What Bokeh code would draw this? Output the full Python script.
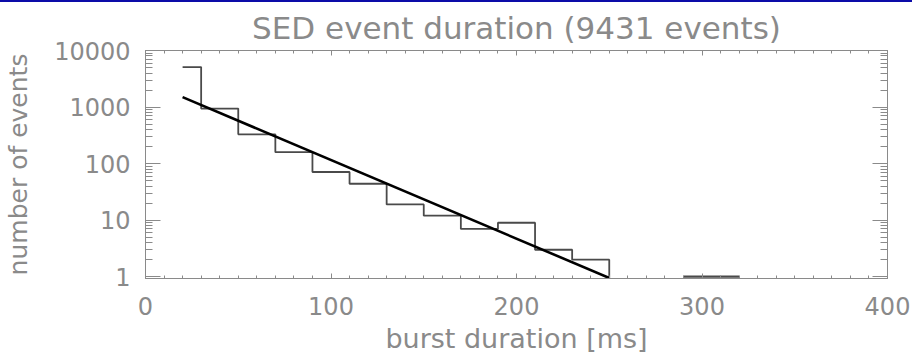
from bokeh.plotting import figure
from bokeh.models import FixedTicker, Range1d, LinearAxis, LogAxis
from bokeh.embed import file_html
from bokeh.resources import INLINE

# Histogram of burst durations: bin edges [ms] and event counts per bin
bin_edges = [20, 30, 50, 70, 90, 110, 130, 150, 170, 190, 210, 230, 250]
bin_counts = [5100, 940, 330, 159, 71, 44, 19, 12, 7, 9, 3, 2]

# Isolated long bursts near 300 ms
tail_edges = [290, 320]
tail_counts = [1]

# Exponential fit (a straight line on the log axis), end points
fit_x = [20, 250]
fit_y = [1500, 0.95]

x_ticks = [0, 100, 200, 300, 400]
x_tick_labels = ["0", "100", "200", "300", "400"]
y_ticks = [1, 10, 100, 1000, 10000]
y_tick_labels = ["1", "10", "100", "1000", "10000"]

FONT = "DejaVu Sans"
TEXT = "#8a8a8a"
AXIS = "#8a8a8a"

p = figure(
    width=912, height=354,
    y_axis_type="log",
    x_range=Range1d(0, 400), y_range=Range1d(0.93, 10000),
    output_backend="svg", toolbar_location=None,
    min_border_left=145, min_border_right=25,
    min_border_top=48, min_border_bottom=77,
    title="SED event duration (9431 events)",
)
p.styles = {"border-top": "2px solid #0c0ca8"}

p.title.align = "center"
p.title.text_font = FONT
p.title.text_font_size = "31px"
p.title.text_font_style = "normal"
p.title.text_color = TEXT
p.title.standoff = 10

p.grid.visible = False
p.outline_line_color = AXIS
p.background_fill_color = "white"
p.border_fill_color = "white"

x_minor = list(range(0, 401, 10))
y_minor = [m * 10 ** d for d in range(0, 4) for m in range(2, 10)]
xt = FixedTicker(ticks=x_ticks, minor_ticks=x_minor)
yt = FixedTicker(ticks=y_ticks, minor_ticks=y_minor)

def style_axis(ax, major_len, minor_len, show_labels):
    ax.axis_line_color = AXIS
    ax.major_tick_line_color = AXIS
    ax.minor_tick_line_color = AXIS
    ax.major_tick_in = major_len
    ax.major_tick_out = 0
    ax.minor_tick_in = minor_len
    ax.minor_tick_out = 0
    ax.major_label_text_font = FONT
    ax.major_label_text_color = TEXT
    ax.axis_label_text_font = FONT
    ax.axis_label_text_color = TEXT
    ax.axis_label_text_font_style = "normal"
    if not show_labels:
        # mirrored axis: ticks only
        ax.major_label_text_font_size = "1px"
        ax.major_label_text_alpha = 0
        ax.major_label_standoff = 0

xa = p.xaxis[0]
xa.ticker = xt
xa.major_label_overrides = dict(zip(x_ticks, x_tick_labels))
style_axis(xa, 5, 3, True)
xa.major_label_text_font_size = "24px"
xa.major_label_standoff = 18
xa.axis_label = "burst duration [ms]"
xa.axis_label_text_font_size = "27px"
xa.axis_label_standoff = 5

ya = p.yaxis[0]
ya.ticker = yt
ya.major_label_overrides = dict(zip(y_ticks, y_tick_labels))
style_axis(ya, 15, 7, True)
ya.major_label_text_font_size = "24px"
ya.major_label_standoff = 15
ya.axis_label = "number of events"
ya.axis_label_text_font_size = "25px"
ya.axis_label_standoff = 18

top = LinearAxis(ticker=xt)
style_axis(top, 5, 3, False)
p.add_layout(top, "above")

right = LogAxis(ticker=yt)
style_axis(right, 15, 7, False)
p.add_layout(right, "right")

# Step outline of the histogram, dropping to the floor after the last bin
hx, hy = [], []
for i, c in enumerate(bin_counts):
    hx += [bin_edges[i], bin_edges[i + 1]]
    hy += [c, c]
hx.append(bin_edges[-1])
hy.append(p.y_range.start)
p.line(hx, hy, line_color="#4a4a4a", line_width=1.8)

tx, ty = [], []
for i, c in enumerate(tail_counts):
    tx += [tail_edges[i], tail_edges[i + 1]]
    ty += [c, c]
p.line(tx, ty, line_color="#4a4a4a", line_width=2.2)

p.line(fit_x, fit_y, line_color="black", line_width=2.6)

open("out.html", "w").write(file_html(p, INLINE))
